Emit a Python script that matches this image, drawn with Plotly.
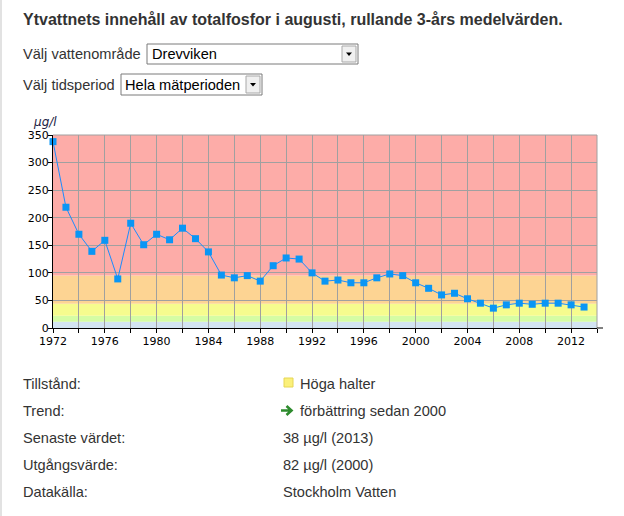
import plotly.graph_objects as go

# ---------------- data ----------------
years = list(range(1972, 2014))
values = [338, 219, 170, 139, 159, 89, 190, 151, 170, 160, 181, 162, 138,
          96, 91, 95, 85, 113, 127, 125, 100, 85, 87, 82, 82, 91, 98, 95,
          82, 72, 60, 63, 53, 45, 36, 42, 45, 43, 45, 45, 42, 38]

# classification bands (lower, upper, colour)
band_edges = [0, 11.5, 22, 44, 95, 350]
band_colors = ["#D3E4F2", "#D5FDA4", "#F6FC8E", "#FDD493", "#FDACA8"]

y_ticks = [0, 50, 100, 150, 200, 250, 300, 350]
x_tick_years = list(range(1972, 2015, 2))
x_tick_labels = [str(y) if (y - 1972) % 4 == 0 and y <= 2012 else "" for y in x_tick_years]

title_text = "Ytvattnets innehåll av totalfosfor i augusti, rullande 3-års medelvärden."
info_labels = ["Tillstånd:", "Trend:", "Senaste värdet:", "Utgångsvärde:", "Datakälla:"]
info_values = ["Höga halter", "förbättring sedan 2000", "38 µg/l (2013)", "82 µg/l (2000)", "Stockholm Vatten"]

# ---------------- layout geometry (pixels) ----------------
W, H = 624, 516
L, R, T, B = 53, 597, 135, 328


def px(x):
    return (x - L) / (R - L)


def py(y):
    return (B - y) / (B - T)


fig = go.Figure()
fig.add_trace(go.Scatter(
    x=years, y=values, mode="lines+markers",
    line=dict(color="#1A8CFF", width=1),
    marker=dict(symbol="square", size=7, color="#0A96F5", line=dict(width=0)),
    hoverinfo="x+y", showlegend=False, cliponaxis=False,
))

shapes = []
for i, c in enumerate(band_colors):
    shapes.append(dict(type="rect", xref="paper", yref="y", x0=0, x1=1,
                       y0=band_edges[i], y1=band_edges[i + 1],
                       fillcolor=c, line=dict(width=0), layer="below"))
# top and right frame in grid colour
shapes.append(dict(type="line", xref="paper", yref="paper", x0=0, x1=1, y0=1, y1=1,
                   line=dict(color="#A0A0A0", width=1)))
shapes.append(dict(type="line", xref="paper", yref="paper", x0=1, x1=1, y0=0, y1=1,
                   line=dict(color="#A0A0A0", width=1)))
# extension of x axis line to the right
shapes.append(dict(type="line", xref="paper", yref="paper", x0=1, x1=px(603), y0=0, y1=0,
                   line=dict(color="black", width=1)))
# page left border
shapes.append(dict(type="line", xref="paper", yref="paper", x0=px(1), x1=px(1), y0=py(0), y1=py(516),
                   line=dict(color="#E2E2E2", width=2)))


def dropdown(x0, x1, y0, y1, bx0):
    shapes.append(dict(type="rect", xref="paper", yref="paper",
                       x0=px(x0), x1=px(x1), y0=py(y1), y1=py(y0),
                       fillcolor="white", line=dict(color="#7A7A7A", width=1)))
    shapes.append(dict(type="rect", xref="paper", yref="paper",
                       x0=px(bx0), x1=px(x1 - 2), y0=py(y1 - 2), y1=py(y0 + 2),
                       fillcolor="#F0F0F0", line=dict(color="#A8A8A8", width=1)))
    cx = (bx0 + x1 - 2) / 2
    cy = (y0 + y1) / 2
    shapes.append(dict(type="path", xref="paper", yref="paper",
                       path=f"M {px(cx-3)},{py(cy-1.5)} L {px(cx+3)},{py(cy-1.5)} L {px(cx)},{py(cy+2)} Z",
                       fillcolor="black", line=dict(width=0)))


dropdown(147, 358, 44, 64, 342)
dropdown(121, 262, 74, 95, 246)

# yellow status square
shapes.append(dict(type="rect", xref="paper", yref="paper",
                   x0=px(284), x1=px(293), y0=py(387), y1=py(378),
                   fillcolor="#FBF07A", line=dict(color="#E6D655", width=1)))
# green trend arrow
shapes.append(dict(type="path", xref="paper", yref="paper",
                   path=(f"M {px(281)},{py(410.5)} L {px(291)},{py(410.5)} "
                         f"M {px(286.5)},{py(406)} L {px(291.5)},{py(410.5)} L {px(286.5)},{py(415)}"),
                   line=dict(color="#2E8B2E", width=2.6)))

annotations = []


def text(x, y, s, size=14.6, color="#333333", family="Liberation Sans, Arial, sans-serif", bold=False, italic=False):
    if bold:
        s = f"<b>{s}</b>"
    if italic:
        s = f"<i>{s}</i>"
    annotations.append(dict(xref="paper", yref="paper", x=px(x), y=py(y), text=s,
                            showarrow=False, xanchor="left", yanchor="middle",
                            font=dict(size=size, color=color, family=family)))


text(21, 19, title_text, size=16, bold=True)
text(21, 54, "Välj vattenområde")
text(150, 54, "Drevviken", color="black")
text(21, 85, "Välj tidsperiod")
text(123, 85, "Hela mätperioden", color="black")
text(31, 122, "µg/l", size=12, color="#222244", family="DejaVu Sans, Verdana, sans-serif", italic=True)

rows_y = [384, 411, 438, 465, 492]
for lab, val, ry in zip(info_labels, info_values, rows_y):
    text(21, ry, lab)
    vx = 298 if ry in (384, 411) else 281
    text(vx, ry, val)

tick_font = dict(family="DejaVu Sans, Verdana, sans-serif", size=11, color="black")

fig.update_layout(
    width=W, height=H,
    margin=dict(l=L, r=W - R, t=T, b=H - B, pad=0),
    paper_bgcolor="white", plot_bgcolor="rgba(0,0,0,0)",
    shapes=shapes, annotations=annotations,
    xaxis=dict(range=[1972, 2014], tickmode="array", tickvals=x_tick_years, ticktext=x_tick_labels,
               showgrid=True, gridcolor="#A0A0A0", gridwidth=1, zeroline=False,
               showline=True, linecolor="black", linewidth=1,
               ticks="outside", ticklen=4, tickcolor="black", ticklabelstandoff=-1,
               tickfont=tick_font, fixedrange=True),
    yaxis=dict(range=[0, 350], tickmode="array", tickvals=y_ticks,
               showgrid=True, gridcolor="#A0A0A0", gridwidth=1, zeroline=False,
               showline=True, linecolor="black", linewidth=1,
               ticks="outside", ticklen=4, tickcolor="black", ticklabelstandoff=-3,
               tickfont=tick_font, fixedrange=True),
    font=dict(family="DejaVu Sans, sans-serif"),
)

fig.write_html("out.html", config={"displayModeBar": False},
               post_script="document.body.style.margin='0';document.body.style.overflow='hidden';")
